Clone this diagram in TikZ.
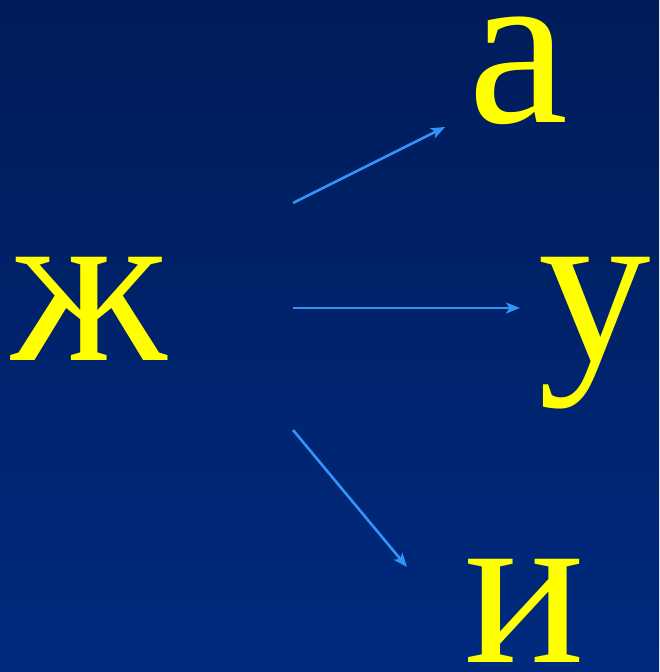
\documentclass[tikz,border=0pt]{standalone}
\usepackage{fontspec}
\setmainfont{Liberation Serif}
\usepackage{xcolor}
\usepackage{tikz}
\usetikzlibrary{arrows.meta}
\definecolor{navytop}{RGB}{0,28,90}
\definecolor{navybot}{RGB}{0,42,126}
\definecolor{letteryel}{RGB}{255,255,0}
\definecolor{arrowblue}{RGB}{48,148,250}

\begin{document}
\begin{tikzpicture}[x=1pt,y=-1pt,
  letter/.style={anchor=base,inner sep=0pt,text=letteryel,font=\fontsize{225}{225}\selectfont},
  link/.style={arrowblue,line width=2.6pt,-{Stealth[length=14pt,width=11pt,inset=3.5pt]}}]
\shade[top color=navytop,bottom color=navybot](0,0)rectangle(659,672);
\useasboundingbox(0,0)rectangle(659,672);
\node[letter](zh)at(89,360){ж};\node[letter](a)at(518,122){а};
\node[letter](u)at(595,360){у};\node[letter](i)at(525,662){и};
\coordinate(sa)at(293,203);\coordinate(ea)at(445,127);
\coordinate(su)at(293,308);\coordinate(eu)at(520,308);
\coordinate(si)at(293,430);\coordinate(ei)at(407,567);
\draw[link](sa)--(ea);\draw[link](su)--(eu);\draw[link](si)--(ei);
\end{tikzpicture}
\end{document}
